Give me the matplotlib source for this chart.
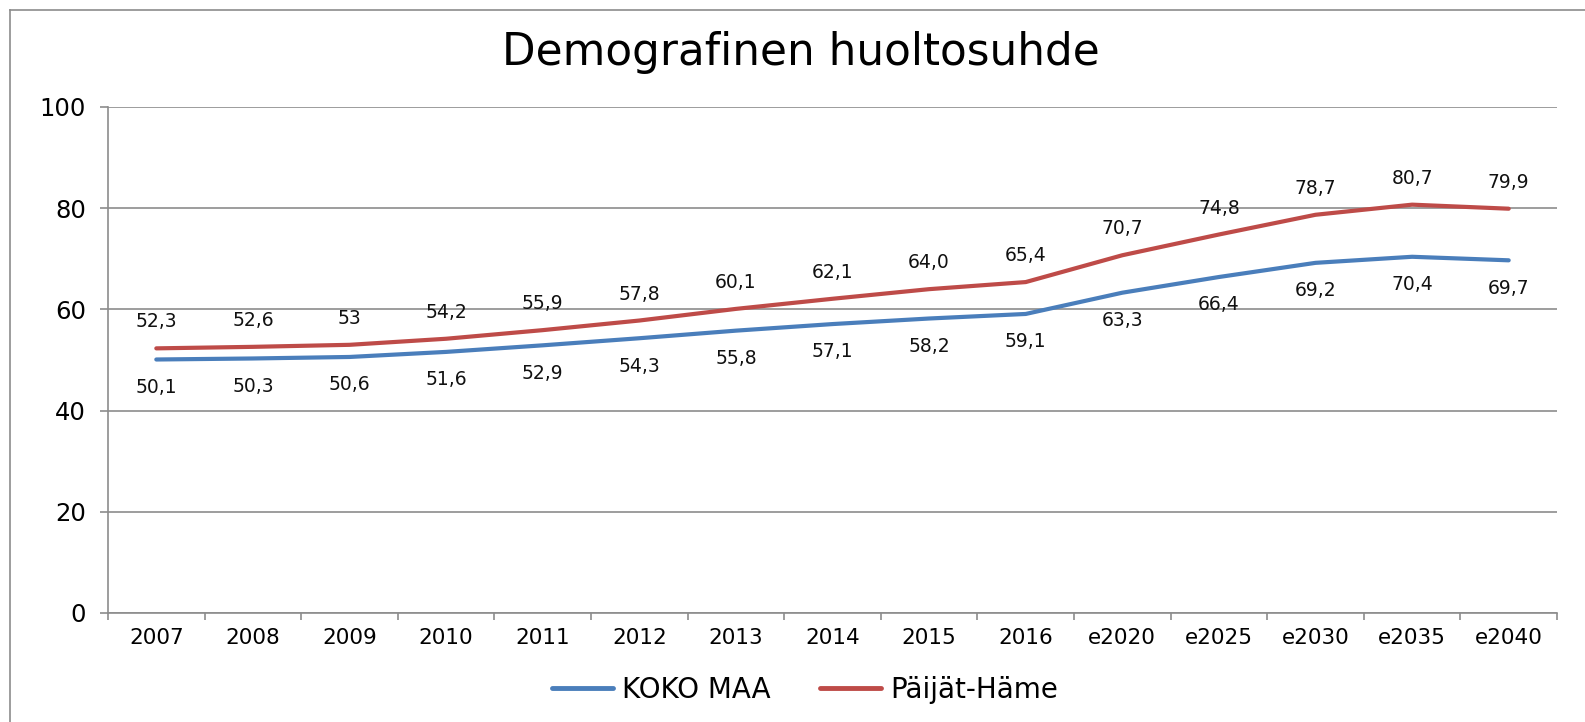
import matplotlib
matplotlib.use("Agg")
import matplotlib.pyplot as plt
from matplotlib.lines import Line2D

categories = ["2007", "2008", "2009", "2010", "2011", "2012", "2013", "2014", "2015", "2016",
              "e2020", "e2025", "e2030", "e2035", "e2040"]
koko_maa = [50.1, 50.3, 50.6, 51.6, 52.9, 54.3, 55.8, 57.1, 58.2, 59.1, 63.3, 66.4, 69.2, 70.4, 69.7]
paijat_hame = [52.3, 52.6, 53.0, 54.2, 55.9, 57.8, 60.1, 62.1, 64.0, 65.4, 70.7, 74.8, 78.7, 80.7, 79.9]
koko_labels = ["50,1", "50,3", "50,6", "51,6", "52,9", "54,3", "55,8", "57,1", "58,2", "59,1",
               "63,3", "66,4", "69,2", "70,4", "69,7"]
paijat_labels = ["52,3", "52,6", "53", "54,2", "55,9", "57,8", "60,1", "62,1", "64,0", "65,4",
                 "70,7", "74,8", "78,7", "80,7", "79,9"]
series_names = ["KOKO MAA", "Päijät-Häme"]
title = "Demografinen huoltosuhde"
yticks = [0, 20, 40, 60, 80, 100]

BLUE = "#4A7EBB"
RED = "#BE4B48"
GRID = "#8C8C8C"

plt.rcParams["font.family"] = ["DejaVu Sans"]

fig = plt.figure(figsize=(15.85, 7.22), dpi=100)
W, H = 1585, 722
ax = fig.add_axes([108 / W, 1 - 613 / H, (1557 - 108) / W, (613 - 107) / H])

x = list(range(len(categories)))
ax.plot(x, koko_maa, color=BLUE, lw=3.0, solid_capstyle="round", zorder=3)
ax.plot(x, paijat_hame, color=RED, lw=3.0, solid_capstyle="round", zorder=3)

for xi, v, lab in zip(x, paijat_hame, paijat_labels):
    ax.annotate(lab, (xi, v), xytext=(0, 19), textcoords="offset points",
                ha="center", va="center", fontsize=13.5, color="#111111")
for xi, v, lab in zip(x, koko_maa, koko_labels):
    ax.annotate(lab, (xi, v), xytext=(0, -20), textcoords="offset points",
                ha="center", va="center", fontsize=13.5, color="#111111")

ax.set_xlim(-0.5, len(categories) - 0.5)
ax.set_ylim(0, 100)
ax.set_yticks(yticks)
ax.set_yticklabels([str(t) for t in yticks], fontsize=17.5)
ax.yaxis.grid(True, color=GRID, lw=1.2)
ax.set_axisbelow(True)

# category ticks between categories (Excel style), labels centered
ax.set_xticks([i - 0.5 for i in range(len(categories) + 1)])
ax.set_xticklabels([""] * (len(categories) + 1))
ax.set_xticks(x, minor=True)
ax.set_xticklabels(categories, minor=True, fontsize=15.5)
ax.tick_params(axis="x", which="minor", length=0, pad=11)
ax.tick_params(axis="x", which="major", length=5, color=GRID, width=1.2, direction="out")
ax.tick_params(axis="y", length=6, color=GRID, width=1.2, pad=10)

for s in ["top", "right"]:
    ax.spines[s].set_visible(False)
for s in ["left", "bottom"]:
    ax.spines[s].set_color(GRID)
    ax.spines[s].set_linewidth(1.2)

fig.text(801 / W, 1 - 53 / H, title, ha="center", va="center", fontsize=31.5)

handles = [Line2D([], [], color=BLUE, lw=3.5, solid_capstyle="round"),
           Line2D([], [], color=RED, lw=3.5, solid_capstyle="round")]
fig.legend(handles, series_names, loc="center", bbox_to_anchor=(805 / W, 1 - 690 / H),
           ncol=2, frameon=False, fontsize=20, handlelength=2.2, handletextpad=0.3,
           columnspacing=1.8)

# outer chart border (left and top visible)
fig.add_artist(Line2D([10 / W, 10 / W], [0, 1 - 10 / H], transform=fig.transFigure,
                      color="#8C8C8C", lw=1.2))
fig.add_artist(Line2D([10 / W, 1], [1 - 10 / H, 1 - 10 / H], transform=fig.transFigure,
                      color="#8C8C8C", lw=1.2))

fig.savefig("out.png", dpi=100, facecolor="white")
